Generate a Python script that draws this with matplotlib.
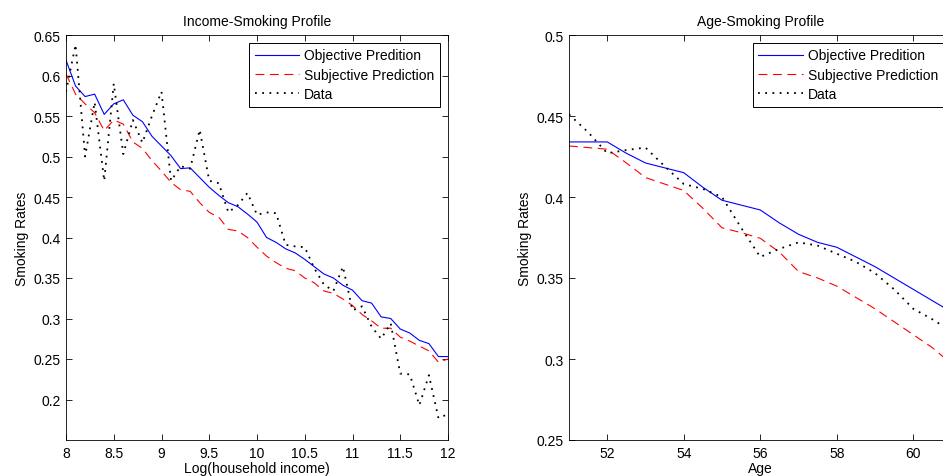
import numpy as np
import matplotlib
matplotlib.use('Agg')
import matplotlib.pyplot as plt

plt.rcParams['font.family'] = ['Liberation Sans', 'DejaVu Sans']

############# Data ##################
# Income-Smoking profile, log household income 8.0 .. 12.0
income = [8.0, 8.1, 8.2, 8.3, 8.4, 8.5, 8.6, 8.7, 8.8, 8.9,
          9.0, 9.1, 9.2, 9.3, 9.4, 9.5, 9.6, 9.7, 9.8, 9.9,
          10.0, 10.1, 10.2, 10.3, 10.4, 10.5, 10.6, 10.7, 10.8, 10.9,
          11.0, 11.1, 11.2, 11.3, 11.4, 11.5, 11.6, 11.7, 11.8, 11.9, 12.0]
inc_objective = [0.619, 0.587, 0.574, 0.577, 0.552, 0.565, 0.570, 0.551, 0.543, 0.525,
                 0.513, 0.501, 0.485, 0.486, 0.474, 0.462, 0.452, 0.443, 0.438, 0.429,
                 0.419, 0.400, 0.394, 0.386, 0.381, 0.373, 0.364, 0.355, 0.350, 0.341,
                 0.335, 0.322, 0.319, 0.302, 0.300, 0.287, 0.282, 0.273, 0.269, 0.253, 0.253]
inc_subjective = [0.602, 0.577, 0.565, 0.554, 0.532, 0.545, 0.540, 0.518, 0.510, 0.495,
                  0.482, 0.468, 0.459, 0.457, 0.443, 0.431, 0.425, 0.410, 0.408, 0.400,
                  0.388, 0.377, 0.369, 0.362, 0.359, 0.350, 0.344, 0.334, 0.331, 0.324,
                  0.316, 0.305, 0.297, 0.288, 0.288, 0.277, 0.272, 0.266, 0.260, 0.246, 0.250]
inc_data = [0.580, 0.638, 0.500, 0.567, 0.470, 0.590, 0.503, 0.545, 0.517, 0.550,
            0.580, 0.470, 0.488, 0.485, 0.533, 0.470, 0.467, 0.431, 0.440, 0.455,
            0.428, 0.431, 0.430, 0.391, 0.389, 0.388, 0.362, 0.342, 0.334, 0.364,
            0.310, 0.315, 0.290, 0.275, 0.294, 0.232, 0.231, 0.193, 0.230, 0.177, 0.182]

# Age-Smoking profile
age = [51.0, 51.5, 52.0, 52.5, 53.0, 53.5, 54.0, 54.5, 55.0, 55.5,
       56.0, 56.5, 57.0, 57.5, 58.0, 58.5, 59.0, 59.5, 60.0, 60.5, 61.0]
age_objective = [0.434, 0.434, 0.434, 0.427, 0.421, 0.418, 0.415, 0.406, 0.398, 0.395,
                 0.392, 0.384, 0.377, 0.372, 0.369, 0.363, 0.357, 0.350, 0.343, 0.336, 0.329]
age_subjective = [0.4315, 0.4305, 0.4295, 0.421, 0.412, 0.408, 0.404, 0.393, 0.381, 0.378,
                  0.3745, 0.366, 0.354, 0.350, 0.345, 0.338, 0.331, 0.323, 0.315, 0.307, 0.297]
age_data = [0.451, 0.440, 0.427, 0.429, 0.4305, 0.419, 0.408, 0.405, 0.400, 0.381,
            0.363, 0.368, 0.372, 0.370, 0.365, 0.360, 0.353, 0.343, 0.331, 0.3245, 0.317]

labels = ['Objective Predition', 'Subjective Prediction', 'Data']
FS = 10


def draw_panel(ax, x, obj, subj, dat):
    ax.plot(x, obj, color='#0000ff', lw=0.8, label=labels[0])
    ax.plot(x, subj, color='#ff0000', lw=0.8, linestyle=(0, (8, 5)), label=labels[1])
    ax.plot(x, dat, color='black', lw=1.3, linestyle=(0, (1, 3)), label=labels[2])
    ax.tick_params(direction='in', length=4, width=0.6, labelsize=FS,
                   top=True, right=True, pad=4)
    for s in ax.spines.values():
        s.set_linewidth(0.6)
    leg = ax.legend(loc='upper right', fontsize=FS, fancybox=False, framealpha=1,
                    edgecolor='black', handlelength=3.2, handletextpad=0.35,
                    labelspacing=0.38, borderaxespad=0.55, borderpad=0.42)
    leg.get_frame().set_linewidth(0.7)


fig = plt.figure(figsize=(9.43, 4.77), dpi=100)

ax1 = fig.add_axes([66 / 943, 36 / 477, 382 / 943, 405 / 477])
draw_panel(ax1, income, inc_objective, inc_subjective, inc_data)
ax1.set_xlim(8, 12)
ax1.set_ylim(0.15, 0.65)
xt = np.arange(8, 12.01, 0.5)
ax1.set_xticks(xt)
ax1.set_xticklabels(['%g' % v for v in xt])
yt = np.arange(0.2, 0.651, 0.05)
ax1.set_yticks(yt)
ax1.set_yticklabels(['%g' % round(v, 2) for v in yt])
ax1.set_title('Income-Smoking Profile', fontsize=FS, pad=7)
ax1.set_xlabel('Log(household income)', fontsize=FS, labelpad=1)
ax1.set_ylabel('Smoking Rates', fontsize=FS, labelpad=3)

ax2 = fig.add_axes([569 / 943, 36 / 477, 382.5 / 943, 405 / 477])
draw_panel(ax2, age, age_objective, age_subjective, age_data)
ax2.set_xlim(51, 61)
ax2.set_ylim(0.25, 0.5)
ax2.set_xticks([52, 54, 56, 58, 60])
yt2 = np.arange(0.25, 0.501, 0.05)
ax2.set_yticks(yt2)
ax2.set_yticklabels(['%g' % round(v, 2) for v in yt2])
ax2.set_title('Age-Smoking Profile', fontsize=FS, pad=7)
ax2.set_xlabel('Age', fontsize=FS, labelpad=1)
ax2.set_ylabel('Smoking Rates', fontsize=FS, labelpad=3)

fig.savefig('out.png', dpi=100)
